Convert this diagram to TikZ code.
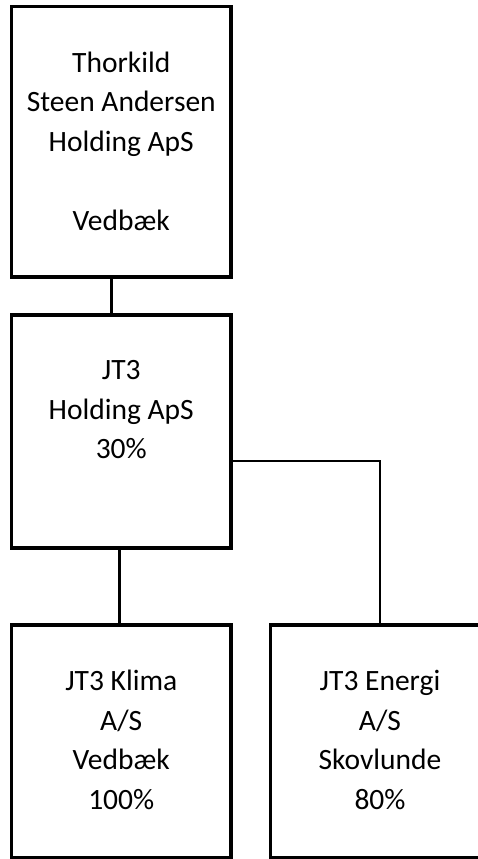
\documentclass[tikz,border=0pt]{standalone}
\usepackage{fontspec}
\setmainfont{Carlito}
\usetikzlibrary{positioning}

\begin{document}
\begin{tikzpicture}[
      x=1pt, y=-1pt,
      box/.style={draw, line width=3.5pt, minimum width=219.5pt, inner sep=0pt},
      txt/.style={align=center, inner sep=0pt, font=\fontsize{29.5}{39.5}\selectfont},
      link/.style={line width=3pt},
      thinlink/.style={line width=1.2pt}
    ]
    \useasboundingbox (0,0) rectangle (478,859);
    \begin{scope}
    \clip (0,0) rectangle (478,859);
    \node[box, minimum height=270.5pt] (topco) at (121.25,141.75) {};
    \node[box, minimum height=233pt] (holding) at (121.25,431.5) {};
    \node[box, minimum height=232.5pt] (klima) at (121.25,741.25) {};
    \node[box, minimum height=232.5pt, minimum width=260pt] (energi) at (400.25,741.25) {};
    \end{scope}
    \node[txt, below=47pt of topco.north] (topco-txt) {Thorkild\\Steen Andersen\\Holding ApS\\[39.5pt]Vedbæk};
    \node[txt, below=47pt of holding.north] (holding-txt) {JT3\\Holding ApS\\30\%};
    \node[txt, below=47pt of klima.north] (klima-txt) {JT3 Klima\\A/S\\Vedbæk\\100\%};
    \node[txt, below=47pt of energi.north, xshift=-20.25pt] (energi-txt) {JT3 Energi\\A/S\\Skovlunde\\80\%};
    \draw[link] ([xshift=-10pt]topco.south) -- ([xshift=-10pt]holding.north);
    \draw[link] ([xshift=-2pt]holding.south) -- ([xshift=-2pt]klima.north);
    \draw[thinlink] ([yshift=-29.5pt]holding.east) -| ([xshift=-20.25pt]energi.north);
  \end{tikzpicture}
\end{document}
